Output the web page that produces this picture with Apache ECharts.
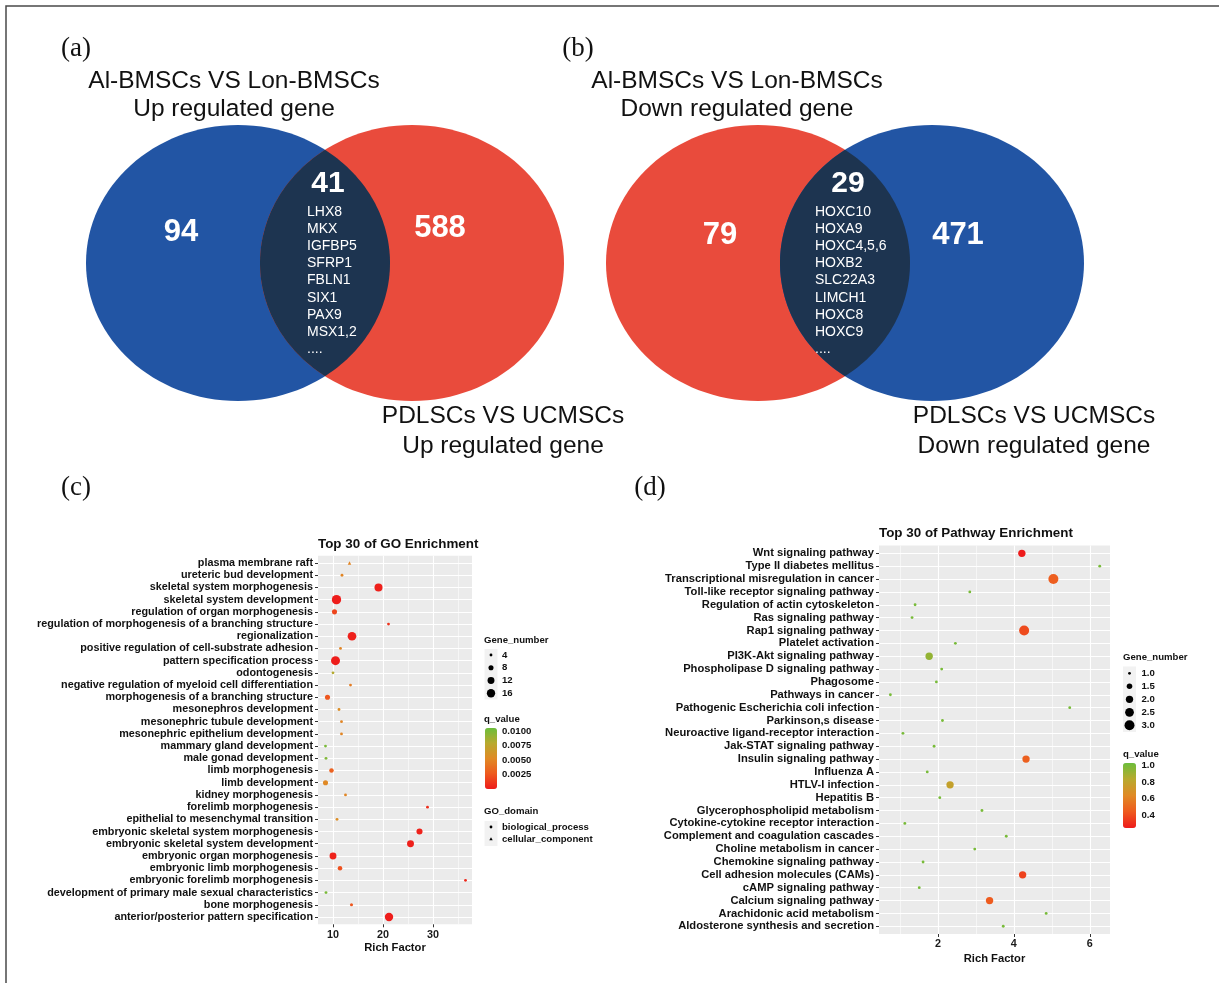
<!DOCTYPE html>
<html><head><meta charset="utf-8">
<script src="https://cdn.jsdelivr.net/npm/echarts@6/dist/echarts.min.js"></script>
<style>html,body{margin:0;padding:0;background:#fff}#c{width:1219px;height:983px}</style>
</head><body><div id="c"></div>
<script>
// ---------------- Venn data ----------------
const vennA_title = ['Al-BMSCs VS Lon-BMSCs', 'Up regulated gene'];
const vennA_title2 = ['PDLSCs VS UCMSCs', 'Up regulated gene'];
const vennA_counts = [94, 41, 588];
const vennA_genes = ['LHX8','MKX','IGFBP5','SFRP1','FBLN1','SIX1','PAX9','MSX1,2','....'];
const vennB_title = ['Al-BMSCs VS Lon-BMSCs', 'Down regulated gene'];
const vennB_title2 = ['PDLSCs VS UCMSCs', 'Down regulated gene'];
const vennB_counts = [79, 29, 471];
const vennB_genes = ['HOXC10','HOXA9','HOXC4,5,6','HOXB2','SLC22A3','LIMCH1','HOXC8','HOXC9','....'];

// ---------------- GO enrichment ----------------
const goTerms = ['plasma membrane raft','ureteric bud development','skeletal system morphogenesis','skeletal system development','regulation of organ morphogenesis','regulation of morphogenesis of a branching structure','regionalization','positive regulation of cell-substrate adhesion','pattern specification process','odontogenesis','negative regulation of myeloid cell differentiation','morphogenesis of a branching structure','mesonephros development','mesonephric tubule development','mesonephric epithelium development','mammary gland development','male gonad development','limb morphogenesis','limb development','kidney morphogenesis','forelimb morphogenesis','epithelial to mesenchymal transition','embryonic skeletal system morphogenesis','embryonic skeletal system development','embryonic organ morphogenesis','embryonic limb morphogenesis','embryonic forelimb morphogenesis','development of primary male sexual characteristics','bone morphogenesis','anterior/posterior pattern specification'];
const goRich = [13.3,11.8,19.1,10.7,10.3,21.1,13.8,11.5,10.5,10.0,13.5,8.9,11.2,11.7,11.7,8.5,8.6,9.7,8.5,12.5,28.9,10.8,27.3,25.5,10.0,11.4,36.5,8.6,13.7,21.2];
const goGenes = [4,4,15,19,8,4,17,4,18,4,4,8,4,4,4,4,4,7,8,4,4,4,10,12,12,7,4,4,5,16];
const goQ = [0.0050,0.0050,0.0002,0.0001,0.0018,0.0010,0.0002,0.0050,0.0001,0.0080,0.0045,0.0025,0.0055,0.0050,0.0050,0.0100,0.0098,0.0030,0.0052,0.0050,0.0008,0.0055,0.0003,0.0002,0.0003,0.0022,0.0006,0.0100,0.0025,0.0001];
const goDomain = ['cellular_component','biological_process','biological_process','biological_process','biological_process','biological_process','biological_process','biological_process','biological_process','biological_process','biological_process','biological_process','biological_process','biological_process','biological_process','biological_process','biological_process','biological_process','biological_process','biological_process','biological_process','biological_process','biological_process','biological_process','biological_process','biological_process','biological_process','biological_process','biological_process','biological_process'];
const goXTicks = [10, 20, 30];
const goXMinor = [15, 25, 35];
const goSizeBreaks = [4, 8, 12, 16];
const goQBreaks = [0.0100, 0.0075, 0.0050, 0.0025];
const goQRange = [0, 0.0105];
const goDomainKeys = ['biological_process', 'cellular_component'];

// ---------------- KEGG enrichment ----------------
const kgTerms = ['Wnt signaling pathway','Type II diabetes mellitus','Transcriptional misregulation in cancer','Toll-like receptor signaling pathway','Regulation of actin cytoskeleton','Ras signaling pathway','Rap1 signaling pathway','Platelet activation','PI3K-Akt signaling pathway','Phospholipase D signaling pathway','Phagosome','Pathways in cancer','Pathogenic Escherichia coli infection','Parkinson,s disease','Neuroactive ligand-receptor interaction','Jak-STAT signaling pathway','Insulin signaling pathway','Influenza A','HTLV-I infection','Hepatitis B','Glycerophospholipid metabolism','Cytokine-cytokine receptor interaction','Complement and coagulation cascades','Choline metabolism in cancer','Chemokine signaling pathway','Cell adhesion molecules (CAMs)','cAMP signaling pathway','Calcium signaling pathway','Arachidonic acid metabolism','Aldosterone synthesis and secretion'];
const kgRich = [4.21,6.26,5.04,2.84,1.40,1.32,4.27,2.46,1.77,2.10,1.96,0.75,5.47,2.12,1.08,1.90,4.32,1.72,2.32,2.05,3.16,1.13,3.80,2.97,1.61,4.23,1.51,3.36,4.85,3.72];
const kgGenes = [2,1,3,1,1,1,3,1,2,1,1,1,1,1,1,1,2,1,2,1,1,1,1,1,1,2,1,2,1,1];
const kgQ = [0.25,1.0,0.46,1.0,1.0,1.0,0.40,1.0,0.93,1.0,1.0,1.0,1.0,1.0,1.0,1.0,0.47,1.0,0.78,1.0,1.0,1.0,1.0,1.0,1.0,0.37,1.0,0.45,1.0,1.0];
const kgXTicks = [2, 4, 6];
const kgXMinor = [1, 3, 5];
const kgSizeBreaks = [1.0, 1.5, 2.0, 2.5, 3.0];
const kgQBreaks = [1.0, 0.8, 0.6, 0.4];
const kgQRange = [0.25, 1.03];

// ---------------- styles ----------------
const FONT = "'Liberation Sans', Arial, sans-serif";
const BLUE = '#2255A4', RED = '#E94B3C', NAVY = '#1D3450';
const PANEL = '#EBEBEB';
const qColors = ['#EE1B1B', '#EE5A1E', '#E08A25', '#B8A92E', '#6CBE3B'];
const goSize = n => Math.sqrt(Math.max(8, 4 + 5.5 * (n - 4)));
const kgSize = n => Math.sqrt(8 + (100 - 8) * (n - 1) / 2);

const chart = echarts.init(document.getElementById('c'));

function txt(text, x, y, font, fill, align, valign) {
  return { type: 'text', x: x, y: y, silent: true,
    style: { text: String(text), font: font, fill: fill || '#111',
      align: align || 'center', verticalAlign: valign || 'middle',
      textAlign: align || 'center', textVerticalAlign: valign || 'middle' } };
}

function lensPoints(c1, c2, cy, rx, ry) {
  const mid = (c1 + c2) / 2;
  const dy = ry * Math.sqrt(1 - Math.pow((mid - c1) / rx, 2));
  const pts = [], N = 80;
  const s = y => Math.sqrt(Math.max(0, 1 - Math.pow((y - cy) / ry, 2)));
  for (let i = 0; i <= N; i++) { const y = cy - dy + 2 * dy * i / N; pts.push([c1 + rx * s(y), y]); }
  for (let i = N; i >= 0; i--) { const y = cy - dy + 2 * dy * i / N; pts.push([c2 - rx * s(y), y]); }
  return pts;
}

function venn(cfg) {
  const els = [];
  const { c1, c2, cy, rx, ry, col1, col2 } = cfg;
  els.push({ type: 'ellipse', silent: true, shape: { cx: c1, cy: cy, rx: rx, ry: ry }, style: { fill: col1 } });
  els.push({ type: 'ellipse', silent: true, shape: { cx: c2, cy: cy, rx: rx, ry: ry }, style: { fill: col2 } });
  els.push({ type: 'polygon', silent: true, shape: { points: lensPoints(c1, c2, cy, rx, ry) }, style: { fill: NAVY } });
  const numFont = 'bold 31px ' + FONT;
  els.push(txt(cfg.counts[0], cfg.n1[0], cfg.n1[1], numFont, '#fff'));
  els.push(txt(cfg.counts[1], cfg.n2[0], cfg.n2[1], 'bold 30px ' + FONT, '#fff'));
  els.push(txt(cfg.counts[2], cfg.n3[0], cfg.n3[1], numFont, '#fff'));
  cfg.genes.forEach((g, i) => els.push(txt(g, cfg.gx, cfg.gy + i * 17.15, '14px ' + FONT, '#fff', 'left')));
  const tf = '24.5px ' + FONT;
  els.push(txt(cfg.title[0], cfg.t1[0], cfg.t1[1], tf));
  els.push(txt(cfg.title[1], cfg.t1[0], cfg.t1[1] + 28.5, tf));
  els.push(txt(cfg.title2[0], cfg.t2[0], cfg.t2[1], tf));
  els.push(txt(cfg.title2[1], cfg.t2[0], cfg.t2[1] + 30, tf));
  return els;
}

const graphics = [];
graphics.push({ type: 'polyline', silent: true, shape: { points: [[6, 983], [6, 6], [1219, 6]] }, style: { stroke: '#4a4a4a', lineWidth: 1.5, fill: null } });
graphics.push(...venn({ c1: 238, c2: 412, cy: 263, rx: 152, ry: 138, col1: BLUE, col2: RED,
  counts: vennA_counts, genes: vennA_genes, title: vennA_title, title2: vennA_title2,
  n1: [181, 232], n2: [328, 184], n3: [440, 228], gx: 307, gy: 212, t1: [234, 81], t2: [503, 416] }));
graphics.push(...venn({ c1: 758, c2: 932, cy: 263, rx: 152, ry: 138, col1: RED, col2: BLUE,
  counts: vennB_counts, genes: vennB_genes, title: vennB_title, title2: vennB_title2,
  n1: [720, 235], n2: [848, 184], n3: [958, 235], gx: 815, gy: 212, t1: [737, 81], t2: [1034, 416] }));

const panelFont = '27px "Liberation Serif", "Times New Roman", serif';
graphics.push(txt('(a)', 76, 49, panelFont, '#111'));
graphics.push(txt('(b)', 578, 49, panelFont, '#111'));
graphics.push(txt('(c)', 76, 488, panelFont, '#111'));
graphics.push(txt('(d)', 650, 488, panelFont, '#111'));

// plot titles
graphics.push(txt('Top 30 of GO Enrichment', 318, 544, 'bold 13.4px ' + FONT, '#111', 'left'));
graphics.push(txt('Top 30 of Pathway Enrichment', 879, 533, 'bold 13.4px ' + FONT, '#111', 'left'));

// legends
const lgTitle = 'bold 9.6px ' + FONT, lgText = 'bold 9.6px ' + FONT;
// GO gene number
graphics.push(txt('Gene_number', 484, 640, lgTitle, '#111', 'left'));
graphics.push({ type: 'rect', silent: true, shape: { x: 484.5, y: 649, width: 13, height: 50.5 }, style: { fill: '#F2F2F2' } });
goSizeBreaks.forEach((b, i) => {
  const y = 655 + i * 12.75;
  graphics.push({ type: 'circle', silent: true, shape: { cx: 491, cy: y, r: goSize(b) / 2 }, style: { fill: '#000' } });
  graphics.push(txt(b, 502, y, lgText, '#111', 'left'));
});
graphics.push(txt('q_value', 484, 719, lgTitle, '#111', 'left'));
const goBar = { top: 728, h: 61 };
goQBreaks.forEach(b => {
  const y = goBar.top + (goQRange[1] - b) / (goQRange[1] - goQRange[0]) * goBar.h;
  graphics.push(txt(b.toFixed(4), 502, y, lgText, '#111', 'left'));
});
graphics.push(txt('GO_domain', 484, 811, lgTitle, '#111', 'left'));
graphics.push({ type: 'rect', silent: true, shape: { x: 484.5, y: 821, width: 13, height: 25 }, style: { fill: '#F2F2F2' } });
graphics.push({ type: 'circle', silent: true, shape: { cx: 491, cy: 827, r: 1.4 }, style: { fill: '#000' } });
graphics.push({ type: 'polygon', silent: true, shape: { points: [[491, 837.2], [489.3, 840.3], [492.7, 840.3]] }, style: { fill: '#000' } });
goDomainKeys.forEach((k, i) => graphics.push(txt(k, 502, 827 + i * 12.5, lgText, '#111', 'left')));
// KEGG gene number
graphics.push(txt('Gene_number', 1123, 657, lgTitle, '#111', 'left'));
graphics.push({ type: 'rect', silent: true, shape: { x: 1123, y: 666.5, width: 13, height: 65.5 }, style: { fill: '#F2F2F2' } });
kgSizeBreaks.forEach((b, i) => {
  const y = 673.3 + i * 13;
  graphics.push({ type: 'circle', silent: true, shape: { cx: 1129.5, cy: y, r: kgSize(b) / 2 }, style: { fill: '#000' } });
  graphics.push(txt(b.toFixed(1), 1141.5, y, lgText, '#111', 'left'));
});
graphics.push(txt('q_value', 1123, 754, lgTitle, '#111', 'left'));
const kgBar = { top: 763, h: 65 };
kgQBreaks.forEach(b => {
  const y = kgBar.top + (kgQRange[1] - b) / (kgQRange[1] - kgQRange[0]) * kgBar.h;
  graphics.push(txt(b.toFixed(1), 1141.5, y, lgText, '#111', 'left'));
});

// ---------------- axes ----------------
const rows = goTerms.map((_, i) => i + 1);
function xMajor(grid, min, max, ticks, nameGap) {
  return { gridIndex: grid, type: 'value', min: min, max: max,
    name: 'Rich Factor', nameLocation: 'middle', nameGap: nameGap,
    nameTextStyle: { fontFamily: FONT, fontWeight: 'bold', fontSize: 11.2, color: '#111' },
    axisLine: { show: false },
    axisTick: { show: true, customValues: ticks, length: 3, lineStyle: { color: '#333', width: 1 } },
    axisLabel: { customValues: ticks, margin: 5, fontFamily: FONT, fontWeight: 'bold', fontSize: 10.8, color: '#1a1a1a' },
    splitLine: { show: true, lineStyle: { color: '#fff', width: 1.1 } } };
}
function xMinor(grid, min, max, ticks) {
  return { gridIndex: grid, type: 'value', min: min, max: max, position: 'top',
    axisLine: { show: false }, axisTick: { show: false, customValues: ticks },
    axisLabel: { show: false, customValues: ticks },
    splitLine: { show: true, lineStyle: { color: '#fff', width: 0.55 } } };
}
function yCat(grid, names, fs) {
  return { gridIndex: grid, type: 'value', min: 0.4, max: names.length + 0.6, inverse: true,
    axisLine: { show: false },
    axisTick: { show: true, customValues: rows, length: 3, lineStyle: { color: '#333', width: 1 } },
    axisLabel: { customValues: rows, margin: 5, fontFamily: FONT, fontWeight: 'bold', fontSize: fs, color: '#111',
      formatter: v => names[Math.round(v) - 1] },
    splitLine: { show: true, lineStyle: { color: '#fff', width: 1.1 } } };
}

const goData = goTerms.map((t, i) => ({
  name: t, value: [goRich[i], i + 1, goQ[i], goGenes[i]],
  symbol: goDomain[i] === 'cellular_component' ? 'triangle' : 'circle',
  symbolSize: goSize(goGenes[i]) * (goDomain[i] === 'cellular_component' ? 1.25 : 1)
}));
const kgData = kgTerms.map((t, i) => ({
  name: t, value: [kgRich[i], i + 1, kgQ[i], kgGenes[i]], symbolSize: kgSize(kgGenes[i])
}));

const option = {
  animation: false,
  backgroundColor: '#fff',
  grid: [
    { left: 318, top: 555.7, width: 154, height: 368.6, show: true, backgroundColor: PANEL, borderWidth: 0 },
    { left: 879, top: 545.6, width: 231, height: 388.4, show: true, backgroundColor: PANEL, borderWidth: 0 }
  ],
  xAxis: [
    xMajor(0, 7.0, 37.8, goXTicks, 18),
    xMinor(0, 7.0, 37.8, goXMinor),
    xMajor(1, 0.45, 6.53, kgXTicks, 19),
    xMinor(1, 0.45, 6.53, kgXMinor)
  ],
  yAxis: [ yCat(0, goTerms, 10.8), yCat(1, kgTerms, 11.2) ],
  visualMap: [
    { type: 'continuous', seriesIndex: 0, dimension: 2, min: goQRange[0], max: goQRange[1],
      inRange: { color: qColors }, calculable: false, hoverLink: false, orient: 'vertical',
      left: 485, top: goBar.top, itemWidth: 12, itemHeight: goBar.h, padding: 0, text: null, showLabel: false },
    { type: 'continuous', seriesIndex: 1, dimension: 2, min: kgQRange[0], max: kgQRange[1],
      inRange: { color: qColors }, calculable: false, hoverLink: false, orient: 'vertical',
      left: 1123, top: kgBar.top, itemWidth: 13, itemHeight: kgBar.h, padding: 0, text: null, showLabel: false }
  ],
  series: [
    { type: 'scatter', xAxisIndex: 0, yAxisIndex: 0, data: goData, itemStyle: { opacity: 1 }, silent: true },
    { type: 'scatter', xAxisIndex: 2, yAxisIndex: 1, data: kgData, itemStyle: { opacity: 1 }, silent: true }
  ],
  graphic: { elements: graphics }
};
chart.setOption(option);
</script></body></html>
